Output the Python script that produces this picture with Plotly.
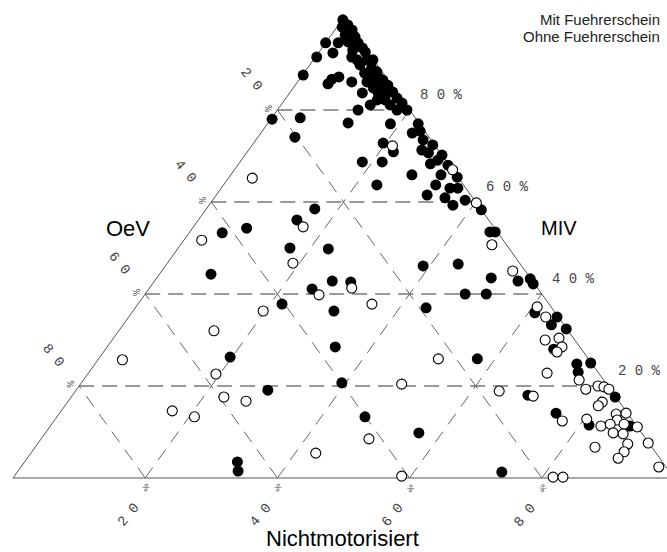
import plotly.graph_objects as go

# ---------------- data: modal split shares in percent ----------------
# Mit Fuehrerschein (filled markers)
mit_oev = [0.3, 0.1, 1.2, 0.0, 1.6, 0.3, 1.9, 0.5, 0.4, 2.1, 0.4, 3.0, 2.5, 1.0, 0.1, 2.6, 1.2, 0.8, 2.8, 2.4,
           1.2, 3.4, 2.2, 0.8, 3.1, 1.7, 0.6, 2.9, 1.6, 0.6, 3.8, 2.6, 0.6, 2.4, 0.4, 0.4, 5.4, 1.9, 5.4, 8.3,
           12.3, 5.4, 3.5, 7.1, 9.5, 8.4, 5.7, 5.3, 7.8, 17.4, 10.7, 4.4, 0.2, 0.7, 2.1, 1.2, 7.6, 7.0, 2.5, 0.3,
           1.8, 0.0, 12.8, 9.8, 2.7, 1.2, 0.2, 6.7, 2.3, 0.1, 13.1, 4.2, 2.4, 1.2, 6.6, 4.2, 3.8, 1.4, 0.0, 1.1,
           0.3, 21.8, 20.3, 29.0, 25.1, 41.7, 37.5, 33.1, 27.4, 47.9, 30.3, 27.6, 34.2, 40.4, 33.3, 14.9, 19.0, 9.4, 5.9, 11.6,
           8.4, 2.2, 0.1, 0.2, 3.1, 0.2, 1.9, 0.1, 4.2, 2.3, 0.1, 3.0, 13.1, 0.1, 10.8, 7.1, 1.0, 37.0, 54.0, 51.9,
           39.9, 16.8, 40.1, 33.7, 64.3, 65.2, 25.4]
mit_nm = [0.1, 1.4, 0.8, 2.6, 2.1, 3.8, 3.3, 4.9, 6.1, 4.9, 7.0, 5.5, 6.6, 8.1, 9.0, 7.6, 9.7, 10.9, 9.2, 10.4,
          11.6, 10.5, 11.7, 12.7, 12.1, 13.3, 14.0, 13.4, 14.7, 15.5, 14.0, 15.2, 16.8, 16.5, 18.1, 19.6, 13.5, 18.1, 0.0, 0.2,
          0.1, 2.2, 1.9, 5.7, 4.8, 4.9, 8.2, 11.0, 12.2, 4.3, 12.1, 18.6, 22.8, 23.9, 22.9, 25.3, 19.6, 22.1, 26.2, 27.3,
          27.5, 29.8, 18.5, 21.5, 29.0, 29.7, 31.8, 27.4, 31.8, 34.5, 23.2, 32.1, 34.6, 35.8, 31.9, 34.9, 36.9, 38.2, 41.7, 45.4,
          46.2, 0.2, 5.6, 14.9, 16.4, 5.0, 8.2, 16.9, 22.8, 7.8, 26.9, 29.8, 24.7, 21.8, 30.4, 39.0, 44.0, 44.1, 50.6, 48.4,
          51.6, 55.0, 56.6, 57.6, 61.0, 64.8, 64.8, 67.5, 67.8, 72.9, 74.9, 74.0, 68.9, 82.3, 75.1, 81.4, 87.7, 34.5, 19.7, 29.0,
          39.4, 57.3, 46.6, 56.5, 32.2, 33.3, 73.3]
mit_miv = [99.6, 98.5, 98.0, 97.4, 96.3, 95.9, 94.8, 94.6, 93.5, 93.0, 92.6, 91.5, 90.9, 90.9, 90.9, 89.8, 89.1, 88.3, 88.0, 87.2,
           87.2, 86.1, 86.1, 86.5, 84.8, 85.0, 85.4, 83.7, 83.7, 83.9, 82.2, 82.2, 82.6, 81.1, 81.5, 80.0, 81.1, 80.0, 94.6, 91.5,
           87.6, 92.4, 94.6, 87.2, 85.7, 86.7, 86.1, 83.7, 80.0, 78.3, 77.2, 77.0, 77.0, 75.4, 75.0, 73.5, 72.8, 70.9, 71.3, 72.4,
           70.7, 70.2, 68.7, 68.7, 68.3, 69.1, 68.0, 65.9, 65.9, 65.4, 63.7, 63.7, 63.0, 63.0, 61.5, 60.9, 59.3, 60.4, 58.3, 53.5,
           53.5, 78.0, 74.1, 56.1, 58.5, 53.3, 54.3, 50.0, 49.8, 44.3, 42.8, 42.6, 41.1, 37.8, 36.3, 46.1, 37.0, 46.5, 43.5, 40.0,
           40.0, 42.8, 43.3, 42.2, 35.9, 35.0, 33.3, 32.4, 28.0, 24.8, 25.0, 23.0, 18.0, 17.6, 14.1, 11.5, 11.3, 28.5, 26.3, 19.1,
           20.7, 25.9, 13.3, 9.8, 3.5, 1.5, 1.3]

# Ohne Fuehrerschein (open markers)
ohne_oev = [6.5, 0.0, 0.0, 2.2, 31.2, 45.6, 28.8, 34.3, 28.1, 33.8, 44.0, 26.8, 53.6, 70.6, 58.0, 59.3, 56.4, 68.6, 65.9, 51.5,
            31.0, 41.9, 41.0, 22.7, 17.0, 12.4, 1.9, 2.1, 1.9, 4.5, 2.2, 2.7, 4.0, 7.8, 3.7, 3.7, 1.5, 0.7, 0.2, 2.6,
            3.6, 10.7, 6.8, 5.4, 1.8, 0.2, 2.3, 3.8, 1.7, 0.0, 4.3, 2.9, 3.3, 4.7, 6.3, 0.1, 8.6, 1.1, 18.2, 16.7]
ohne_nm = [21.3, 33.0, 40.2, 47.1, 3.6, 2.7, 16.6, 19.0, 30.6, 26.4, 19.7, 35.4, 14.4, 3.7, 19.4, 23.1, 26.9, 16.8, 20.8, 43.1,
           48.6, 49.6, 58.6, 51.4, 64.1, 69.8, 53.1, 60.7, 63.1, 65.5, 67.4, 68.8, 68.6, 69.4, 75.0, 77.0, 78.5, 79.5, 80.5, 80.9,
           80.7, 76.9, 80.4, 83.3, 84.3, 85.7, 85.1, 84.5, 86.6, 88.9, 85.9, 87.5, 89.3, 89.6, 89.4, 92.3, 84.7, 96.5, 81.6, 83.1]
ohne_miv = [72.2, 67.0, 59.8, 50.7, 65.2, 51.7, 54.6, 46.7, 41.3, 39.8, 36.3, 37.8, 32.0, 25.7, 22.6, 17.6, 16.7, 14.6, 13.3, 5.4,
            20.4, 8.5, 0.4, 25.9, 18.9, 17.8, 45.0, 37.2, 35.0, 30.0, 30.4, 28.5, 27.4, 22.8, 21.3, 19.3, 20.0, 19.8, 19.3, 16.5,
            15.7, 12.4, 12.8, 11.3, 13.9, 14.1, 12.6, 11.7, 11.7, 11.1, 9.8, 9.6, 7.4, 5.7, 4.3, 7.6, 6.7, 2.4, 0.2, 0.2]

grid_levels = [20, 40, 60, 80]
oev_tick_text = ["2 0", "4 0", "6 0", "8 0"]
nm_tick_text = ["2 0", "4 0", "6 0", "8 0"]
miv_tick_text = ["2 0 %", "4 0 %", "6 0 %", "8 0 %"]
group_names = ["Mit Fuehrerschein", "Ohne Fuehrerschein"]
title_oev, title_nm, title_miv = "OeV", "Nichtmotorisiert", "MIV"


def to_xy(oev, nm, miv):
    """Barycentric (OeV, NM, MIV) -> plane: OeV corner bottom-left, NM bottom-right, MIV top."""
    xs, ys = [], []
    for a, b, c in zip(oev, nm, miv):
        s = a + b + c
        xs.append(100.0 * (b + c / 2.0) / s)
        ys.append(100.0 * c / s)
    return xs, ys


def segments(pairs):
    xs, ys = [], []
    for p, q in pairs:
        (x0,), (y0,) = to_xy([p[0]], [p[1]], [p[2]])
        (x1,), (y1,) = to_xy([q[0]], [q[1]], [q[2]])
        xs += [x0, x1, None]
        ys += [y0, y1, None]
    return xs, ys


fig = go.Figure()

# outline
ox, oy = to_xy([100, 0, 0, 100], [0, 100, 0, 0], [0, 0, 100, 0])
fig.add_trace(go.Scatter(x=ox, y=oy, mode="lines", line=dict(color="#555555", width=1),
                         hoverinfo="skip", showlegend=False))

# grid: constant MIV (horizontal)
hx, hy = segments([((100 - L, 0, L), (0, 100 - L, L)) for L in grid_levels])
fig.add_trace(go.Scatter(x=hx, y=hy, mode="lines",
                         line=dict(color="#333333", width=1, dash="15px,8px"),
                         hoverinfo="skip", showlegend=False))
# grid: constant NM and constant OeV (diagonals)
dpairs = [((100 - L, L, 0), (0, L, 100 - L)) for L in grid_levels] + \
         [((L, 100 - L, 0), (L, 0, 100 - L)) for L in grid_levels]
dx, dy = segments(dpairs)
fig.add_trace(go.Scatter(x=dx, y=dy, mode="lines",
                         line=dict(color="#666666", width=1, dash="13px,9px"),
                         hoverinfo="skip", showlegend=False))

# points
mx, my = to_xy(mit_oev, mit_nm, mit_miv)
fig.add_trace(go.Scatter(x=mx, y=my, mode="markers", name=group_names[0],
                         marker=dict(symbol="circle", size=11, color="black", line=dict(width=0)),
                         showlegend=False))
px_, py_ = to_xy(ohne_oev, ohne_nm, ohne_miv)
fig.add_trace(go.Scatter(x=px_, y=py_, mode="markers", name=group_names[1],
                         marker=dict(symbol="circle", size=10, color="white",
                                     line=dict(width=1.1, color="black")),
                         showlegend=False))

ann = []
tick_font = dict(family="Liberation Mono, DejaVu Sans Mono, monospace", size=14, color="#444444")
mark_font = dict(family="DejaVu Sans", size=8, color="#444444")
for L, t in zip(grid_levels, miv_tick_text):
    (x0,), (y0,) = to_xy([0], [100 - L], [L])
    ann.append(dict(x=x0, y=y0, xref="x", yref="y", text=t, showarrow=False,
                    xshift=32, yshift=15, font=tick_font))
for L, t in zip(grid_levels, oev_tick_text):
    (x0,), (y0,) = to_xy([L], [0], [100 - L])
    ann.append(dict(x=x0, y=y0, xref="x", yref="y", text=t, showarrow=False,
                    xshift=-26, yshift=31, textangle=50, font=tick_font))
    ann.append(dict(x=x0, y=y0, xref="x", yref="y", text="%", showarrow=False,
                    xshift=-8, yshift=2, textangle=-90, font=mark_font))
for L, t in zip(grid_levels, nm_tick_text):
    (x0,), (y0,) = to_xy([100 - L], [L], [0])
    ann.append(dict(x=x0, y=y0, xref="x", yref="y", text=t, showarrow=False,
                    xshift=-17, yshift=-37, textangle=-50, font=tick_font))
    ann.append(dict(x=x0, y=y0, xref="x", yref="y", text="%", showarrow=False,
                    xshift=1, yshift=-10, textangle=60, font=mark_font))

W, H = 667, 552
sans = "Liberation Sans, Arial, sans-serif"
ann.append(dict(x=128 / W, y=1 - 228 / H, xref="paper", yref="paper", text=title_oev,
                showarrow=False, xanchor="center", yanchor="middle",
                font=dict(family=sans, size=22, color="black")))
ann.append(dict(x=559 / W, y=1 - 228 / H, xref="paper", yref="paper", text=title_miv,
                showarrow=False, xanchor="center", yanchor="middle",
                font=dict(family=sans, size=20, color="black")))
ann.append(dict(x=343 / W, y=1 - 538 / H, xref="paper", yref="paper", text=title_nm,
                showarrow=False, xanchor="center", yanchor="middle",
                font=dict(family=sans, size=22, color="black")))

leg_font = dict(family=sans, size=15, color="#222222")
ann.append(dict(x=662 / W, y=1 - 19 / H, xref="paper", yref="paper", text=group_names[0],
                showarrow=False, xanchor="right", yanchor="middle", font=leg_font))
ann.append(dict(x=662 / W, y=1 - 37 / H, xref="paper", yref="paper", text=group_names[1],
                showarrow=False, xanchor="right", yanchor="middle", font=leg_font))

fig.update_layout(
    width=W, height=H, autosize=False,
    margin=dict(l=0, r=0, t=0, b=0),
    paper_bgcolor="white", plot_bgcolor="white",
    xaxis=dict(range=[-13 / 6.61, (W - 13) / 6.61], visible=False, fixedrange=True),
    yaxis=dict(range=[(478 - H) / 4.6, 478 / 4.6], visible=False, fixedrange=True),
    annotations=ann,
    showlegend=False,
)

fig.write_html("out.html",
               post_script="document.body.style.margin='0';document.body.style.overflow='hidden';",
               config={"displayModeBar": False})
